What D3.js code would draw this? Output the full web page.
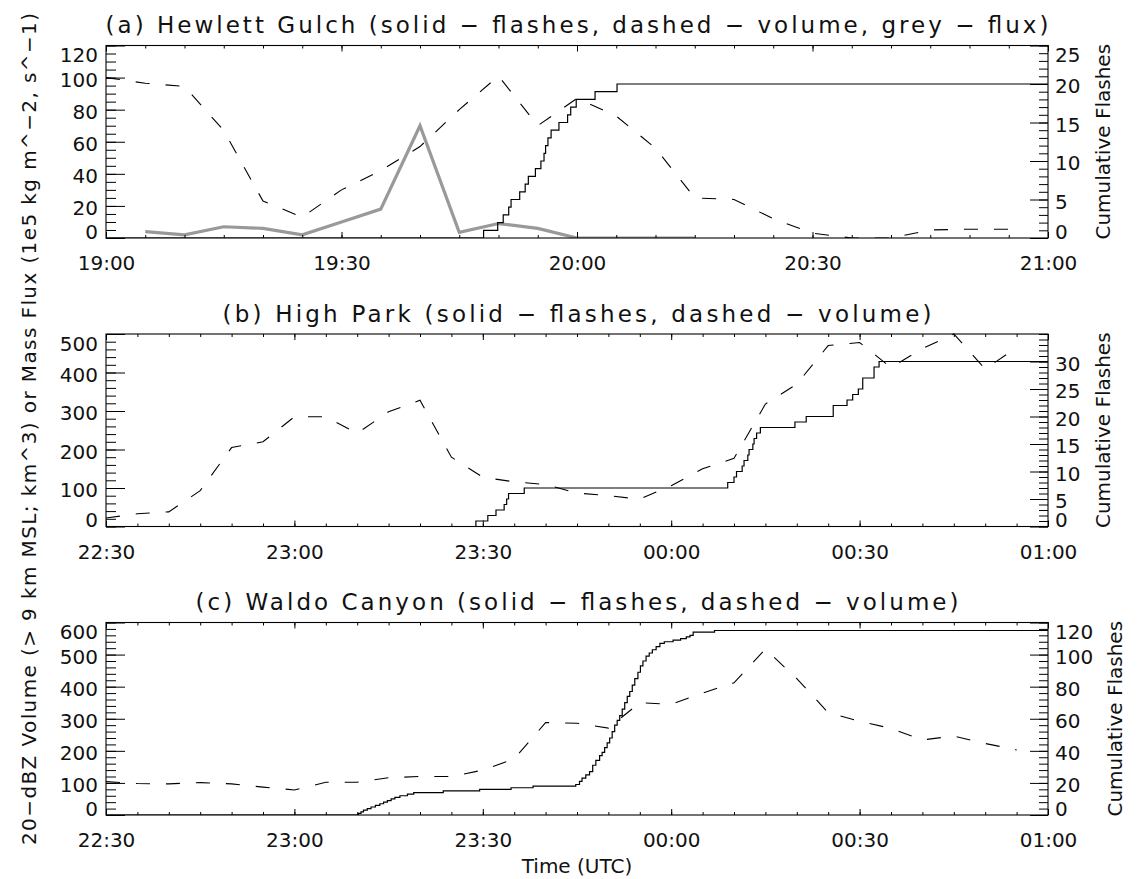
<!DOCTYPE html>
<html>
<head>
<meta charset="utf-8">
<script src="https://cdn.jsdelivr.net/npm/d3@7"></script>
<style>
  body { margin: 0; background: #fff; }
  svg { display: block; }
</style>
</head>
<body>
<svg id="chart" width="1137" height="879"></svg>
<script>
// ---------- data ----------

// (a) Hewlett Gulch
const hgTitle = "(a) Hewlett Gulch (solid \u2212 flashes, dashed \u2212 volume, grey \u2212 flux)";
const hgVolumeTimes = ["19:00","19:05","19:10","19:15","19:20","19:25","19:30","19:35","19:40","19:45",
  "19:50","19:55","20:00","20:05","20:10","20:15","20:20","20:25","20:30","20:35","20:40","20:45","20:50","20:55"];
const hgVolume = [100, 96.5, 94.5, 67, 23, 13, 30, 42, 57, 80,
  101, 70, 87, 76, 56, 25, 24, 12, 3, 0, 0, 5, 5.5, 5.5];
const hgFluxTimes = ["19:05","19:10","19:15","19:20","19:25","19:30","19:35","19:40","19:45","19:50",
  "19:55","20:00","20:05","20:10","20:15"];
const hgFlux = [4, 2, 7, 6, 2, 10, 18, 70, 3.5, 9, 6, 0, 0, 0, 0];
const hgFlashTimes = ["19:48:06","19:49:54","19:50:36","19:51:18","19:51:36","19:52:42","19:53:24","19:53:48",
  "19:54:42","19:55:24","19:55:48","19:56:00","19:56:18","19:56:42","19:57:42","19:58:48","19:59:12",
  "19:59:54","20:02:18","20:05:06"];
const hgFlashCounts = [1, 2, 3, 4, 5, 6, 7, 8, 9, 10, 11, 12, 13, 14, 15, 16, 17, 18, 19, 20];
const hgLeftTicks = [0, 20, 40, 60, 80, 100, 120];
const hgRightTicks = [0, 5, 10, 15, 20, 25];

// (b) High Park
const hpTitle = "(b) High Park (solid \u2212 flashes, dashed \u2212 volume)";
const hpVolumeTimes = ["22:30","22:35","22:40","22:45","22:50","22:55","23:00","23:05","23:10","23:15",
  "23:20","23:25","23:30","23:35","23:40","23:45","23:50","23:55","00:00","00:05",
  "00:10","00:15","00:20","00:25","00:30","00:35","00:40","00:45","00:50","00:55"];
const hpVolume = [22, 33, 38, 93, 205, 220, 285, 285, 242, 298,
  328, 180, 128, 116, 109, 87, 80, 71, 106, 150,
  177, 318, 370, 470, 478, 413, 462, 500, 409, 465];
const hpFlashTimes = ["23:28:54","23:30:48","23:32:06","23:33:24","23:33:48","23:34:06","23:36:36",
  "00:09:00","00:10:00","00:10:24","00:11:18","00:11:36","00:12:12","00:12:24","00:13:00","00:13:12",
  "00:13:36","00:14:12","00:19:42","00:21:30","00:25:48","00:28:00","00:28:54","00:29:48","00:30:30",
  "00:32:18","00:33:06"];
const hpFlashCounts = [1, 2, 3, 4, 5, 6, 7, 8, 9, 10, 11, 12, 13, 14, 15, 16, 17, 18, 19, 20,
  22, 23, 24, 25, 27, 29, 30];
const hpLeftTicks = [0, 100, 200, 300, 400, 500];
const hpRightTicks = [0, 5, 10, 15, 20, 25, 30];

// (c) Waldo Canyon
const wcTitle = "(c) Waldo Canyon (solid \u2212 flashes, dashed \u2212 volume)";
const wcVolumeTimes = hpVolumeTimes;
const wcVolume = [104, 98, 97, 101, 97, 87, 78, 102, 102, 116,
  120, 120, 140, 175, 288, 286, 271, 350, 345, 380,
  412, 517, 425, 319, 292, 270, 234, 246, 223, 203];
const wcFlashTimes = ["23:10:12","23:10:36","23:11:00","23:11:36","23:12:12","23:12:54","23:13:36","23:14:12",
  "23:14:48","23:15:24","23:16:00","23:16:48","23:18:00","23:19:00","23:23:42","23:29:30","23:34:30",
  "23:38:00","23:44:48","23:45:24","23:45:48","23:46:24","23:47:00","23:47:30","23:48:00","23:48:36",
  "23:49:00","23:49:24","23:49:48","23:50:12","23:50:36","23:51:00","23:51:24","23:51:48","23:52:12",
  "23:52:36","23:53:00","23:53:24","23:53:48","23:54:12","23:54:42","23:55:06","23:55:30","23:56:00",
  "23:56:30","23:57:00","23:57:36","23:58:12","23:58:54","00:00:18","00:01:30","00:02:24","00:03:00",
  "00:03:30","00:06:54"];
const wcFlashCounts = [1, 2, 3, 4, 5, 6, 7, 8, 9, 10, 11, 12, 13, 14, 15, 16, 17, 18, 19, 21,
  23, 25, 27, 31, 34, 37, 39, 42, 45, 48, 52, 56, 59, 62, 66, 70, 74, 77, 81, 85,
  89, 93, 96, 99, 101, 103, 105, 107, 108, 109, 110, 111, 112, 114, 115];
const wcLeftTicks = [0, 100, 200, 300, 400, 500, 600];
const wcRightTicks = [0, 20, 40, 60, 80, 100, 120];

const yLabel = "20\u2212dBZ Volume (> 9 km MSL; km^3) or Mass Flux (1e5 kg m^\u22122, s^\u22121)";
const rightLabel = "Cumulative Flashes";
const xLabel = "Time (UTC)";

// ---------- layout ----------
const left = 106;
const plotW = 942;
const plotH = 192.5;
const panelTops = [45.5, 334, 622.5];
const titleBaselines = [33.3, 321.7, 610];
const titleWidths = [943, 709, 763];
const font = "'DejaVu Sans ExtraLight', 'DejaVu Sans', 'Liberation Sans', sans-serif";

const panels = [
  { title: hgTitle, start: "19:00", end: "21:00",
    leftTicks: hgLeftTicks, leftMinor: 5, rightTicks: hgRightTicks, rightMinor: 1,
    volT: hgVolumeTimes, vol: hgVolume, fluxT: hgFluxTimes, flux: hgFlux,
    flashT: hgFlashTimes, flashN: hgFlashCounts },
  { title: hpTitle, start: "22:30", end: "01:00",
    leftTicks: hpLeftTicks, leftMinor: 20, rightTicks: hpRightTicks, rightMinor: 1, rightMax: 35,
    volT: hpVolumeTimes, vol: hpVolume,
    flashT: hpFlashTimes, flashN: hpFlashCounts },
  { title: wcTitle, start: "22:30", end: "01:00",
    leftTicks: wcLeftTicks, leftMinor: 20, rightTicks: wcRightTicks, rightMinor: 4,
    volT: wcVolumeTimes, vol: wcVolume,
    flashT: wcFlashTimes, flashN: wcFlashCounts }
];

// "HH:MM[:SS]" -> minutes, rolled past midnight relative to ref
const toMin = (s, ref) => {
  const [h, m, sec] = s.split(":").map(Number);
  let v = h * 60 + m + (sec || 0) / 60;
  if (ref !== undefined && v < ref) v += 1440;
  return v;
};
const fmt2 = d3.format("02d");
const fmtTime = (v) => fmt2(Math.floor(v / 60) % 24) + ":" + fmt2(Math.round(v % 60));

const svg = d3.select("#chart");

panels.forEach((p, i) => {
  const top = panelTops[i];
  const g = svg.append("g").attr("transform", `translate(${left},${top})`);

  const t0 = toMin(p.start);
  const t1 = toMin(p.end, t0);
  const leftMax = d3.max(p.leftTicks);
  const rightMax = p.rightMax || d3.max(p.rightTicks);

  const x = d3.scaleLinear().domain([t0, t1]).range([0, plotW]);
  const yL = d3.scaleLinear().domain([0, leftMax]).range([plotH, 0]);
  const yR = d3.scaleLinear().domain([0, rightMax]).range([plotH, 0]);

  g.append("clipPath").attr("id", "clip" + i)
    .append("rect").attr("x", 0).attr("y", -1).attr("width", plotW).attr("height", plotH + 1);
  const plot = g.append("g").attr("clip-path", `url(#clip${i})`);

  // volume (dashed)
  const volData = p.volT.map((t, k) => [toMin(t, t0), p.vol[k]]);
  plot.append("path")
    .datum(volData)
    .attr("fill", "none")
    .attr("stroke", "#000")
    .attr("stroke-width", 1.1)
    .attr("stroke-dasharray", "14,16")
    .attr("d", d3.line().x(d => x(d[0])).y(d => yL(d[1])));

  // mass flux (grey)
  if (p.fluxT) {
    const fluxData = p.fluxT.map((t, k) => [toMin(t, t0), p.flux[k]]);
    plot.append("path")
      .datum(fluxData)
      .attr("fill", "none")
      .attr("stroke", "#999")
      .attr("stroke-width", 3.2)
      .attr("d", d3.line().x(d => x(d[0])).y(d => yL(d[1])));
  }

  // cumulative flashes (solid steps)
  const flashData = [[t0, 0]]
    .concat(p.flashT.map((t, k) => [toMin(t, t0), p.flashN[k]]));
  flashData.push([t1, p.flashN[p.flashN.length - 1]]);
  plot.append("path")
    .datum(flashData)
    .attr("fill", "none")
    .attr("stroke", "#000")
    .attr("stroke-width", 1.2)
    .attr("d", d3.line().curve(d3.curveStepAfter).x(d => x(d[0])).y(d => yR(d[1])));

  // ---- axes ----
  const minorX = d3.range(t0, t1 + 0.01, 5);
  const majorX = d3.range(t0, t1 + 0.01, 30);

  const styleAxis = (sel) => {
    sel.select(".domain").remove();
    sel.selectAll("line").attr("stroke", "#000").attr("stroke-width", 1);
    sel.attr("font-family", font).attr("font-size", 20).attr("fill", "#000");
    sel.selectAll("text").attr("fill", "#111");
  };

  g.append("g").attr("transform", `translate(0,${plotH})`)
    .call(d3.axisBottom(x).tickValues(minorX).tickSize(-3).tickFormat(""))
    .call(styleAxis);
  g.append("g").attr("transform", `translate(0,${plotH})`)
    .call(d3.axisBottom(x).tickValues(majorX).tickSize(-6).tickFormat(fmtTime))
    .call(styleAxis)
    .call(a => a.selectAll("text").attr("y", 32).attr("dy", null));
  g.append("g")
    .call(d3.axisTop(x).tickValues(minorX).tickSize(-3).tickFormat(""))
    .call(styleAxis);
  g.append("g")
    .call(d3.axisTop(x).tickValues(majorX).tickSize(-6).tickFormat(""))
    .call(styleAxis);

  // keep edge labels inside the frame, as the original does
  const labelDy = (scale) => (d) => {
    const pos = scale(d);
    let b = pos + 8.5;
    b = Math.max(b, 16);
    b = Math.min(b, plotH);
    return b - pos;
  };

  g.append("g")
    .call(d3.axisLeft(yL).tickValues(d3.range(0, leftMax + 0.01, p.leftMinor)).tickSize(-10).tickFormat(""))
    .call(styleAxis);
  g.append("g")
    .call(d3.axisLeft(yL).tickValues(p.leftTicks).tickSize(-19).tickPadding(8).tickFormat(d3.format("d")))
    .call(styleAxis)
    .call(a => a.selectAll("text").attr("x", -8).attr("dy", labelDy(yL)));

  g.append("g").attr("transform", `translate(${plotW},0)`)
    .call(d3.axisRight(yR).tickValues(d3.range(0, rightMax + 0.01, p.rightMinor)).tickSize(-9).tickFormat(""))
    .call(styleAxis);
  const rAxis = g.append("g").attr("transform", `translate(${plotW},0)`)
    .call(d3.axisRight(yR).tickValues(p.rightTicks).tickSize(-18).tickPadding(7).tickFormat(d3.format("d")))
    .call(styleAxis)
    .call(a => a.selectAll("text").attr("x", 7).attr("dy", labelDy(yR)));

  // frame
  g.append("rect")
    .attr("width", plotW).attr("height", plotH)
    .attr("fill", "none").attr("stroke", "#000").attr("stroke-width", 1.1);

  // title
  svg.append("text")
    .attr("x", left + plotW / 2)
    .attr("y", titleBaselines[i])
    .attr("text-anchor", "middle")
    .attr("font-family", font)
    .attr("font-size", 23)
    .attr("fill", "#111")
    .attr("textLength", titleWidths[i])
    .attr("lengthAdjust", "spacing")
    .text(p.title);

  // right axis label
  let maxW = 0;
  rAxis.selectAll("text").each(function () { maxW = Math.max(maxW, this.getBBox().width); });
  const rx = left + plotW + 7 + maxW + 22;
  const ry = top + plotH / 2;
  svg.append("text")
    .attr("transform", `translate(${rx},${ry}) rotate(-90)`)
    .attr("text-anchor", "middle")
    .attr("dy", "0.36em")
    .attr("font-family", font)
    .attr("font-size", 20)
    .attr("fill", "#111")
    .text(rightLabel);
});

// shared left label
svg.append("text")
  .attr("transform", "translate(28.6,429) rotate(-90)")
  .attr("text-anchor", "middle")
  .attr("dy", "0.36em")
  .attr("font-family", font)
  .attr("font-size", 20)
  .attr("fill", "#111")
  .attr("textLength", 832)
  .attr("lengthAdjust", "spacing")
  .text(yLabel);

// x label
svg.append("text")
  .attr("x", left + plotW / 2)
  .attr("y", 873)
  .attr("text-anchor", "middle")
  .attr("font-family", font)
  .attr("font-size", 20)
  .attr("fill", "#111")
  .text(xLabel);
</script>
</body>
</html>
